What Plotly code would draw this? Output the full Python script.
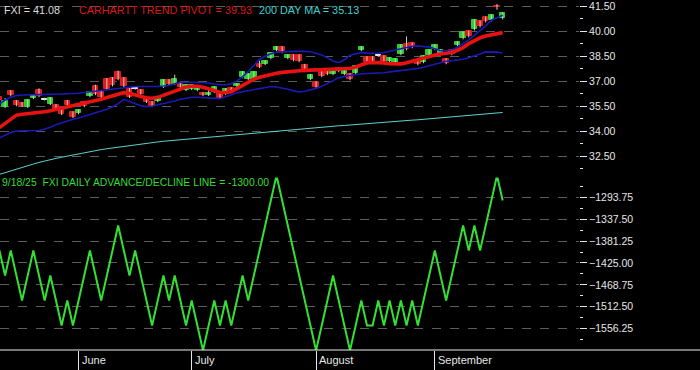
import plotly.graph_objects as go

dates = [
    "2025-05-12","2025-05-13","2025-05-14","2025-05-15","2025-05-16","2025-05-19","2025-05-20","2025-05-21","2025-05-22","2025-05-23",
    "2025-05-27","2025-05-28","2025-05-29","2025-05-30",
    "2025-06-02","2025-06-03","2025-06-04","2025-06-05","2025-06-06","2025-06-09","2025-06-10","2025-06-11","2025-06-12","2025-06-13",
    "2025-06-16","2025-06-17","2025-06-18","2025-06-20","2025-06-23","2025-06-24","2025-06-25","2025-06-26","2025-06-27","2025-06-30",
    "2025-07-01","2025-07-02","2025-07-03","2025-07-07","2025-07-08","2025-07-09","2025-07-10","2025-07-11","2025-07-14","2025-07-15",
    "2025-07-16","2025-07-17","2025-07-18","2025-07-21","2025-07-22","2025-07-23","2025-07-24","2025-07-25","2025-07-28","2025-07-29",
    "2025-07-30","2025-07-31",
    "2025-08-01","2025-08-04","2025-08-05","2025-08-06","2025-08-07","2025-08-08","2025-08-11","2025-08-12","2025-08-13","2025-08-14",
    "2025-08-15","2025-08-18","2025-08-19","2025-08-20","2025-08-21","2025-08-22","2025-08-25","2025-08-26","2025-08-27","2025-08-28",
    "2025-08-29",
    "2025-09-02","2025-09-03","2025-09-04","2025-09-05","2025-09-08","2025-09-09","2025-09-10","2025-09-11","2025-09-12","2025-09-15",
    "2025-09-16","2025-09-17","2025-09-18",
]

opens = [36.05,35.45,36.41,35.81,35.69,35.45,35.99,36.47,35.93,35.63,
         35.57,35.33,35.81,35.15,35.09,35.75,36.11,36.71,36.35,37.13,
         37.19,37.55,37.19,36.53,36.59,36.47,35.93,35.75,35.81,36.65,
         37.07,36.83,36.83,36.47,36.53,36.47,36.29,36.17,36.35,36.29,
         36.23,36.59,36.71,37.25,37.13,37.13,38.03,38.03,38.39,38.87,
         39.05,38.39,38.57,38.57,37.97,37.13,36.95,37.55,37.73,37.43,
         37.79,37.43,37.43,37.49,38.87,38.45,38.45,38.54,38.51,38.21,
         38.09,38.63,39.23,39.28,38.21,38.15,38.57,38.93,38.63,38.33,
         38.87,39.17,39.58,40.00,40.12,40.60,40.84,40.66,41.56,40.78]
closes = [35.87,35.81,36.17,35.57,35.51,35.87,36.17,36.11,35.93,35.99,
          35.33,35.03,35.57,34.85,35.27,35.51,36.35,36.23,36.05,36.53,
          36.77,37.13,36.71,36.05,36.59,36.23,35.75,35.51,36.05,37.07,
          36.83,37.13,36.65,36.77,36.77,36.65,36.17,36.29,36.65,35.99,
          36.53,36.41,36.83,37.55,37.43,37.55,37.85,38.21,38.69,39.05,
          38.75,38.57,38.27,38.21,37.73,37.37,36.65,37.31,37.43,37.67,
          37.61,37.67,37.13,37.91,39.05,38.15,38.15,38.54,38.15,38.39,
          38.33,39.17,38.93,39.05,38.03,38.51,38.87,39.17,38.87,38.09,
          38.63,39.34,39.94,39.70,40.66,40.30,40.60,40.96,41.44,41.08]
highs = [36.12,36.00,36.48,35.88,35.76,35.93,36.23,36.58,36.02,36.05,
         35.63,35.40,35.88,35.20,35.33,35.82,36.40,36.80,36.42,37.20,
         37.25,37.65,37.25,36.60,36.68,36.53,35.99,35.81,36.11,37.13,
         37.13,37.40,36.89,36.83,36.83,36.71,36.35,36.50,36.71,36.35,
         36.59,36.65,36.89,37.61,37.49,37.61,38.25,38.27,38.75,39.11,
         39.11,38.63,38.63,38.63,38.05,37.43,37.01,37.61,37.79,37.73,
         37.85,37.73,37.49,37.97,39.11,38.51,38.51,38.60,38.57,38.45,
         38.39,39.23,39.70,39.34,38.27,38.57,38.93,39.23,38.93,38.39,
         38.93,39.40,40.00,40.06,40.72,40.66,40.90,41.02,41.65,41.14]
lows = [35.80,35.40,36.10,35.50,35.45,35.40,35.93,36.05,35.85,35.58,
        35.28,34.98,35.52,34.80,35.03,35.45,36.05,36.17,36.00,36.47,
        36.70,37.07,36.65,36.00,36.50,36.17,35.70,35.45,35.75,36.60,
        36.78,36.78,36.60,36.42,36.48,36.41,36.11,36.12,36.30,35.93,
        36.17,36.35,36.65,37.19,37.07,37.07,37.80,37.98,38.33,38.81,
        38.69,38.33,38.21,38.15,37.67,37.07,36.59,37.25,37.37,37.37,
        37.55,37.37,37.07,37.43,38.81,38.09,38.09,38.48,38.09,38.15,
        38.03,38.57,38.87,38.99,37.97,38.09,38.51,38.87,38.57,38.03,
        38.57,39.11,39.52,39.64,40.06,40.24,40.54,40.60,41.30,40.72]

pivot = [34.22,34.49,34.76,34.97,35.02,35.05,35.08,35.12,35.17,35.24,
         35.31,35.38,35.45,35.53,35.61,35.69,35.76,35.84,35.92,36.03,
         36.14,36.23,36.32,36.28,36.17,36.09,36.02,35.99,36.04,36.16,
         36.29,36.43,36.55,36.66,36.71,36.71,36.65,36.57,36.45,36.35,
         36.33,36.38,36.57,36.77,36.97,37.13,37.25,37.34,37.43,37.49,
         37.54,37.59,37.62,37.64,37.66,37.67,37.68,37.69,37.70,37.71,
         37.72,37.72,37.77,37.86,37.98,38.11,38.13,38.14,38.11,38.06,
         38.05,38.05,38.12,38.21,38.30,38.41,38.52,38.58,38.64,38.67,
         38.73,38.87,39.03,39.27,39.45,39.62,39.72,39.80,39.87,39.93]
upper_band = [35.64,35.88,36.05,36.15,36.18,36.18,36.20,36.20,36.21,36.22,
              36.23,36.24,36.26,36.27,36.29,36.33,36.37,36.42,36.46,36.50,
              36.55,36.59,36.64,36.69,36.69,36.69,36.68,36.69,36.70,36.72,
              36.75,36.86,36.95,36.95,36.95,36.95,36.93,36.89,36.84,36.80,
              36.80,36.86,37.03,37.28,37.59,37.95,38.33,38.51,38.66,38.75,
              38.79,38.79,38.80,38.81,38.80,38.78,38.70,38.59,38.41,38.22,
              38.12,38.30,38.57,38.67,38.74,38.70,38.69,38.69,38.73,38.80,
              38.87,38.96,39.05,39.11,39.13,39.11,39.06,38.96,38.84,38.84,
              38.88,39.05,39.26,39.49,39.76,40.03,40.35,40.67,40.82,40.97]
lower_band = [33.60,33.78,33.92,34.02,34.03,34.02,34.03,34.05,34.14,34.24,
              34.40,34.52,34.63,34.72,34.80,34.90,35.01,35.11,35.23,35.33,
              35.48,35.66,35.92,35.78,35.64,35.54,35.48,35.50,35.59,35.66,
              35.72,35.82,35.93,36.01,36.05,36.05,36.03,35.99,35.97,35.96,
              36.08,36.20,36.30,36.38,36.44,36.49,36.55,36.63,36.69,36.66,
              36.61,36.53,36.43,36.36,36.41,36.48,36.58,36.70,36.87,37.05,
              37.21,37.29,37.35,37.41,37.46,37.47,37.48,37.49,37.52,37.57,
              37.61,37.66,37.67,37.70,37.77,37.85,37.94,38.04,38.14,38.21,
              38.24,38.28,38.33,38.42,38.52,38.64,38.77,38.78,38.76,38.70]
ma200 = [31.41,31.52,31.63,31.74,31.84,31.94,32.03,32.13,32.22,32.31,
         32.37,32.44,32.51,32.58,32.64,32.71,32.78,32.85,32.90,32.95,
         33.00,33.05,33.09,33.14,33.19,33.23,33.28,33.32,33.36,33.40,
         33.43,33.47,33.51,33.54,33.58,33.62,33.65,33.68,33.71,33.74,
         33.77,33.80,33.83,33.86,33.89,33.92,33.95,33.98,34.00,34.03,
         34.06,34.08,34.11,34.14,34.16,34.19,34.22,34.24,34.27,34.30,
         34.33,34.35,34.38,34.41,34.43,34.46,34.48,34.51,34.53,34.56,
         34.59,34.61,34.64,34.67,34.69,34.72,34.75,34.78,34.80,34.83,
         34.86,34.89,34.92,34.95,34.98,35.01,35.04,35.07,35.10,35.13]
ad_line = [-1400,-1450,-1400,-1450,-1500,-1450,-1400,-1450,-1500,-1450,
           -1500,-1550,-1500,-1550,-1500,-1450,-1400,-1450,-1500,-1450,
           -1400,-1350,-1400,-1450,-1400,-1450,-1500,-1550,-1500,-1450,
           -1500,-1450,-1500,-1550,-1500,-1550,-1600,-1550,-1500,-1550,
           -1500,-1550,-1500,-1450,-1500,-1450,-1400,-1350,-1300,-1250,
           -1300,-1350,-1400,-1450,-1500,-1550,-1600,-1550,-1500,-1450,
           -1500,-1550,-1600,-1550,-1500,-1550,-1550,-1500,-1550,-1500,
           -1550,-1500,-1550,-1500,-1550,-1500,-1450,-1400,-1450,-1500,
           -1450,-1400,-1350,-1400,-1350,-1400,-1350,-1300,-1250,-1300]

month_starts = ["2025-06-02", "2025-07-01", "2025-08-01", "2025-09-02"]
month_names = ["June", "July", "August", "September"]

GREEN = "#2ad02a"
RED = "#dd1c1c"
body_colors = []
body_base = []
body_len = []
for o, c in zip(opens, closes):
    lo, hi = min(o, c), max(o, c)
    if hi - lo < 0.01:
        body_colors.append("#e8e8e8")
        body_base.append(lo - 0.03)
        body_len.append(0.06)
    else:
        body_colors.append(GREEN if c > o else RED)
        body_base.append(lo)
        body_len.append(hi - lo)

fig = go.Figure()
fig.add_trace(go.Scatter(x=dates, y=ma200, mode="lines", line=dict(color="#5fd0d0", width=1),
                         xaxis="x", yaxis="y", hoverinfo="skip"))
fig.add_trace(go.Scatter(x=dates, y=upper_band, mode="lines", line=dict(color="#1a1ab8", width=1.6),
                         xaxis="x", yaxis="y", hoverinfo="skip"))
fig.add_trace(go.Scatter(x=dates, y=lower_band, mode="lines", line=dict(color="#1a1ab8", width=1.6),
                         xaxis="x", yaxis="y", hoverinfo="skip"))
fig.add_trace(go.Scatter(x=dates, y=pivot, mode="lines", line=dict(color="#e81212", width=3.6),
                         xaxis="x", yaxis="y", hoverinfo="skip"))
fig.add_trace(go.Ohlc(x=dates, open=opens, high=highs, low=lows, close=closes, tickwidth=0,
                      increasing=dict(line=dict(color="#d0d0d0", width=1)),
                      decreasing=dict(line=dict(color="#d0d0d0", width=1)),
                      xaxis="x", yaxis="y", hoverinfo="skip"))
fig.add_trace(go.Bar(x=dates, y=body_len, base=body_base, width=0.98,
                     marker=dict(color=body_colors, line=dict(width=1, color=body_colors)),
                     xaxis="x", yaxis="y", hoverinfo="skip"))
fig.add_trace(go.Scatter(x=dates, y=ad_line, mode="lines", line=dict(color="#33e033", width=2),
                         xaxis="x", yaxis="y2", hoverinfo="skip"))

TICKFONT = dict(family="Arial, Liberation Sans, sans-serif", size=10.5, color="#e6e6e6")
GRID = dict(showgrid=True, gridcolor="#5c5c5c", gridwidth=1, griddash="dash")

fig.update_layout(
    width=700, height=370,
    paper_bgcolor="#000000", plot_bgcolor="#000000",
    margin=dict(l=0, r=121, t=0, b=20),
    showlegend=False,
    bargap=0,
    xaxis=dict(type="category", categoryorder="array", categoryarray=dates,
               range=[0.1, 102.5], anchor="y2", showgrid=False, zeroline=False,
               showline=False, rangeslider=dict(visible=False),
               tickmode="array", tickvals=month_starts, ticktext=month_names,
               ticks="outside", ticklen=20, tickwidth=1, tickcolor="#e6e6e6",
               showticklabels=False, fixedrange=True),
    yaxis=dict(domain=[0.497, 1], range=[31.22, 41.71], side="right", anchor="x",
               tick0=32.5, dtick=1.5, tickformat=".2f", ticks="outside", ticklen=7,
               tickcolor="#e6e6e6", tickfont=TICKFONT, zeroline=False, showline=False,
               ticklabeloverflow="allow",
               minor=dict(dtick=0.75, tick0=32.5, ticks="outside", ticklen=3, tickcolor="#e6e6e6", showgrid=False),
               **GRID),
    yaxis2=dict(domain=[0, 0.497], range=[-1599.2, -1254.0], side="right", anchor="x",
                tick0=-1425, dtick=43.75, tickformat=".2f", ticks="outside", ticklen=7,
                tickcolor="#e6e6e6", tickfont=TICKFONT, zeroline=False, showline=False,
                ticklabeloverflow="allow",
                minor=dict(dtick=21.875, tick0=-1425, ticks="outside", ticklen=3, tickcolor="#e6e6e6", showgrid=False),
                **GRID),
)

ANN_FONT = "Arial, Liberation Sans, sans-serif"
W = 579.0
H = 350.0
anns = [
    dict(text="FXI = 41.08", x=2 / W, y=1 - 7 / H, color="#dcdcdc", size=10.8),
    dict(text="CARHARTT TREND PIVOT = 39.93", x=77 / W, y=1 - 7 / H, color="#dd1515", size=10.8),
    dict(text="200 DAY MA = 35.13", x=257 / W, y=1 - 7 / H, color="#3fd0d0", size=10.8),
    dict(text="9/18/25&nbsp; FXI DAILY ADVANCE/DECLINE LINE = -1300.00", x=0, y=1 - 181 / H, color="#33dd33", size=10.4),
]
for a in anns:
    fig.add_annotation(text=a["text"], xref="paper", yref="paper", x=a["x"], y=a["y"],
                       xanchor="left", yanchor="middle", showarrow=False,
                       font=dict(family=ANN_FONT, size=a["size"], color=a["color"]))
for m, name in zip(month_starts, month_names):
    fig.add_annotation(text=name, xref="x", yref="paper", x=m, y=-10 / H,
                       xanchor="left", yanchor="middle", xshift=1, showarrow=False,
                       font=dict(family=ANN_FONT, size=11, color="#e6e6e6"))

fig.add_shape(type="line", xref="paper", yref="paper", x0=0, x1=700 / W, y0=0, y1=0,
              line=dict(color="#f0f0f0", width=1))

fig.write_html("out.html", config={"displayModeBar": False},
               post_script="document.body.style.margin='0px';document.body.style.background='#000';")
